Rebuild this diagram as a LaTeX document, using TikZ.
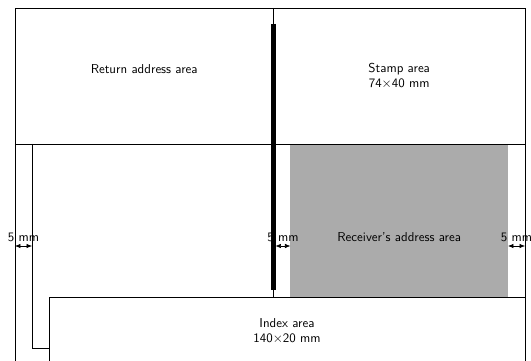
\documentclass[tikz,border=0pt]{standalone}
\usetikzlibrary{arrows.meta}
\begin{document}
\begin{tikzpicture}[x=1mm,y=1mm,
  lbl/.style={font=\sffamily\fontsize{10.8}{13}\selectfont, align=center},
  edge/.style={line width=0.6pt},
  dim/.style={line width=0.5pt,{Latex[length=1.6mm,width=1.3mm]}-{Latex[length=1.6mm,width=1.3mm]}}]
\useasboundingbox (-4.41,2.35) rectangle (151.76,-103.82);
\clip (-4.41,2.35) rectangle (151.76,-103.82);
% gray receiver area
\fill[black!33] (81,-40) rectangle (145,-85);
% card outline
\draw[edge] (0,-105) -- (0,0) -- (150,0) -- (150,-105);
\draw[edge] (0,-40) -- (150,-40);
% divider
\draw[line width=0.4pt] (76,0) -- (76,-85);
\draw[line width=3.5pt] (76,-4.7) -- (76,-83);
% inner left margin line
\draw[edge] (5,-40) -- (5,-100) -- (10,-100);
% index area
\draw[edge] (10,-105) -- (10,-85) -- (150,-85);
% coordinates for dimension marks
\coordinate (d1a) at (0,-70);
\coordinate (d1b) at (5,-70);
\coordinate (d2a) at (76.6,-70);
\coordinate (d2b) at (81,-70);
\coordinate (d3a) at (145,-70);
\coordinate (d3b) at (150,-70);
\draw[dim] (d1a) -- node[lbl,above] (t1) {5 mm} (d1b);
\draw[dim] (d2a) -- node[lbl,above] (t2) {5 mm} (d2b);
\draw[dim] (d3a) -- node[lbl,above] (t3) {5 mm} (d3b);
% labels
\node[lbl] (ret) at (38,-18) {Return address area};
\node[lbl] (stamp) at (113,-20) {Stamp area\\74$\times$40 mm};
\node[lbl,above] (recv) at (113,-70) {Receiver's address area};
\node[lbl] (index) at (80,-95) {Index area\\140$\times$20 mm};
\end{tikzpicture}
\end{document}
